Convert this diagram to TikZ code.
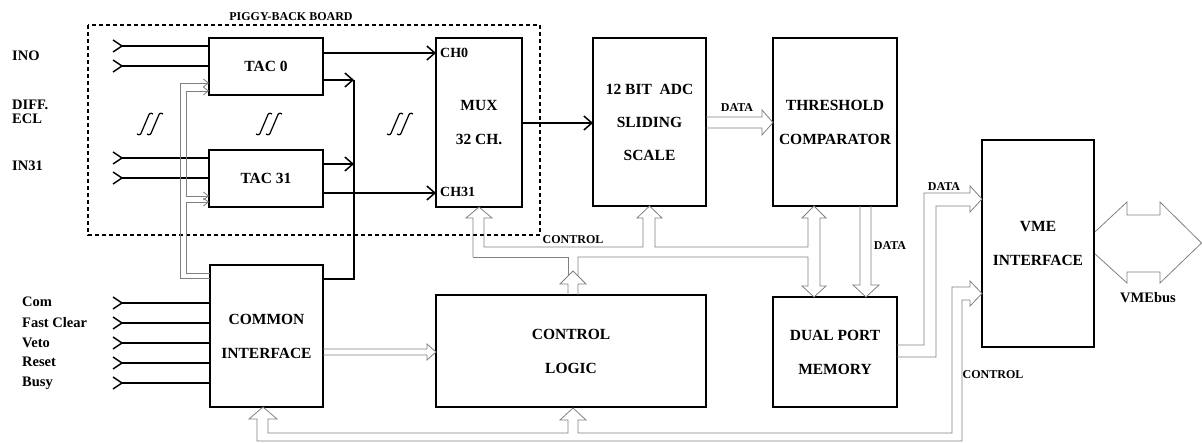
\documentclass[tikz,border=0pt]{standalone}
\usepackage{fontspec}
\setmainfont{Liberation Serif}
\usetikzlibrary{arrows.meta,calc}
\newcommand\sqstroke[2]{%
  \draw[sq] ({#1-8},{#2+10}) .. controls ({#1-5},{#2+12}) and ({#1-4},{#2+10}) .. ({#1-3},{#2+7})
     -- ({#1+3},{#2-7}) .. controls ({#1+4},{#2-10}) and ({#1+5},{#2-12}) .. ({#1+8},{#2-10});}
\newcommand\squig[2]{\sqstroke{#1-5}{#2}\sqstroke{#1+5}{#2}}
\begin{document}
\begin{tikzpicture}[x=1pt,y=-1pt,
  box/.style={draw,line width=1.6pt,fill=white,inner sep=0pt,outer sep=0pt,align=center,
    font=\fontsize{15.5}{34}\selectfont\bfseries},
  sig/.style={line width=1.5pt},
  sigar/.style={sig,-{Straight Barb[length=8pt,width=14pt,line width=1.5pt]}},
  bus/.style={draw=black!50,line width=0.8pt},
  busar/.style={bus,-{Straight Barb[length=5pt,width=8pt]}},
  sq/.style={line width=1.2pt},
  lab/.style={font=\fontsize{14.5}{16}\selectfont\bfseries,inner sep=0pt,anchor=base west},
  blab/.style={font=\fontsize{12}{14}\selectfont\bfseries,inner sep=0pt},
]
\useasboundingbox (0,0) rectangle (1202,443);

% VMEbus double arrow (drawn first, the VME box covers its left tip)
\draw[bus] (1127,215) -- (1160,215) -- (1160,202) -- (1201.5,243) -- (1160,283) -- (1160,272)
  -- (1127,272) -- (1127,283) -- (1083,243) -- (1127,202) -- cycle;

% piggy-back board
\draw[line width=1.3pt,dash pattern=on 4pt off 3pt] (88,25) rectangle (540,235);
\node[blab] (pbb) at (291,17) {PIGGY-BACK BOARD};

% boxes
\node[box,minimum width=114pt,minimum height=57pt] (tac0) at (266,66.5) {TAC 0};
\node[box,minimum width=114pt,minimum height=57pt] (tac31) at (266,178.5) {TAC 31};
\node[box,minimum width=86pt,minimum height=169pt] (mux) at (479,122.5) {MUX\\32 CH.};
\node[box,minimum width=113pt,minimum height=168pt] (adc) at (649.5,122) {12 BIT\ \ ADC\\[-1pt]SLIDING\\[-1pt]SCALE};
\node[box,minimum width=124pt,minimum height=168pt] (thr) at (835,122) {\raisebox{-7pt}{THRESHOLD}\\\raisebox{-7pt}{COMPARATOR}};
\node[box,minimum width=124pt,minimum height=110pt] (dpm) at (835,352) {DUAL PORT\\MEMORY};
\node[box,minimum width=112pt,minimum height=207pt] (vme) at (1038,243.5) {VME\\INTERFACE};
\node[box,minimum width=113pt,minimum height=142pt] (ci) at (266.5,336) {COMMON\\INTERFACE};
\node[box,minimum width=270pt,minimum height=112pt] (cl) at (571,351) {CONTROL\\LOGIC};

\node[lab,font=\fontsize{14}{16}\selectfont\bfseries] (ch0) at (440,58) {CH0};
\node[lab,font=\fontsize{14}{16}\selectfont\bfseries] (ch31) at (440,197) {CH31};

% left labels
\node[lab] (lin0) at (12,61) {INO};
\node[lab] (ldiff) at (12,110) {DIFF.};
\node[lab] (lecl) at (12,124) {ECL};
\node[lab] (lin31) at (12,171) {IN31};
\node[lab] (lcom) at (22,307) {Com};
\node[lab] (lfc) at (22,328) {Fast Clear};
\node[lab] (lveto) at (22,348) {Veto};
\node[lab] (lres) at (22,367) {Reset};
\node[lab] (lbusy) at (22,387) {Busy};

% input chevrons and lines
\foreach \n/\yy/\tgt in {a/46/tac0,b/66/tac0,c/158/tac31,d/178/tac31,e/303/ci,f/323/ci,g/343/ci,h/363/ci,k/383/ci}{
  \coordinate (in\n) at (122,\yy);
  \draw[sig] ($(in\n)+(-9,-6)$) -- (in\n) -- ($(in\n)+(-9,6)$);
  \draw[sig] (in\n) -- (in\n -| \tgt.west);
}

% squiggles
\squig{150}{124}
\squig{269}{124}
\squig{400}{124}

% black signal connectors
\coordinate (fb) at (354,80);
\draw[sigar] (tac0.east |- 0,53) -- (mux.west |- 0,53);
\draw[sigar] (tac31.east |- 0,193) -- (mux.west |- 0,193);
\draw[sigar] (tac0.east |- fb) -- (fb);
\draw[sigar] (tac31.east |- 0,164) -- (fb |- 0,164);
\draw[sig] (ci.east |- 0,279) -| (fb);
\draw[sigar] (mux.east |- 0,123) -- (adc.west |- 0,123);

% grey lines from common interface to TACs
\draw[busar] (ci.west |- 0,278) -| (180,83) -- (tac0.west |- 0,83);
\draw[bus,{Straight Barb[length=5pt,width=8pt]}-{Straight Barb[length=5pt,width=8pt]}]
  (tac0.west |- 0,91) -- (186,91) -- (186,196) -- (tac31.west |- 0,196);
\draw[busar] (ci.west |- 0,273) -| (186,202) -- (tac31.west |- 0,202);

% hollow DATA arrow ADC -> threshold
\draw[bus] (adc.east |- 0,117) -- (762,117) -- (762,110) -- (thr.west |- 0,122.5) -- (762,135)
  -- (762,128) -- (adc.east |- 0,128);
\node[blab] (d1) at (737,108) {DATA};

% hollow arrow common interface -> control logic
\draw[bus] (ci.east |- 0,349) -- (427,349) -- (427,344) -- (cl.west |- 0,352) -- (427,360)
  -- (427,355) -- (ci.east |- 0,355);

% control bus (upper)
\coordinate (tdt) at (814,206);
\coordinate (tdb) at (814,297);
\draw[bus] (473,257) -- (473,218) -- (466,218) -- (mux.south) -- (492,218) -- (484,218)
  -- (484,247) -- (643,247) -- (643,218) -- (637,218) -- (adc.south) -- (662,218) -- (655,218)
  -- (655,247) -- (808,247) -- (808,218) -- (802,218) -- (tdt) -- (826,218) -- (820,218)
  -- (820,286) -- (826,286) -- (tdb) -- (802,286) -- (808,286) -- (808,257) -- (578,257) -- (578,276);
\draw[bus] (473,257) -- (568,257) -- (568,276);
\draw[bus] (568,295) -- (568,284) -- (560,284) -- (573,271) -- (586,284) -- (578,284) -- (578,295);
\node[blab] (ctl1) at (573,240) {CONTROL};

% DATA threshold -> dual port memory
\draw[bus] (thr.south -| 860,0) -- (860,285) -- (853,285) -- (866,297) -- (879,285) -- (871,285)
  -- (thr.south -| 871,0);
\node[blab] (d2) at (890,246) {DATA};

% DATA dual port memory -> VME
\draw[bus] (dpm.east |- 0,345) -- (924,345) -- (924,193) -- (970,193) -- (970,186)
  -- (vme.west |- 0,199) -- (970,212) -- (970,206) -- (936,206) -- (936,357) -- (dpm.east |- 0,357);
\node[blab] (d3) at (944,187) {DATA};

% control bus (lower)
\draw[bus] (257,441) -- (257,419) -- (249,419) -- (263,407) -- (277,419) -- (268,419) -- (268,433)
  -- (568,433) -- (568,420) -- (560,420) -- (573,408) -- (586,420) -- (578,420) -- (578,433)
  -- (952,433) -- (952,287) -- (970,287) -- (970,281) -- (vme.west |- 0,293.5) -- (970,306)
  -- (970,300) -- (962,300) -- (962,441) -- cycle;
\node[blab] (ctl2) at (993,375) {CONTROL};

\node[font=\fontsize{14.5}{16}\selectfont\bfseries,inner sep=0pt] (vmebus) at (1148,298) {VMEbus};
\end{tikzpicture}
\end{document}
